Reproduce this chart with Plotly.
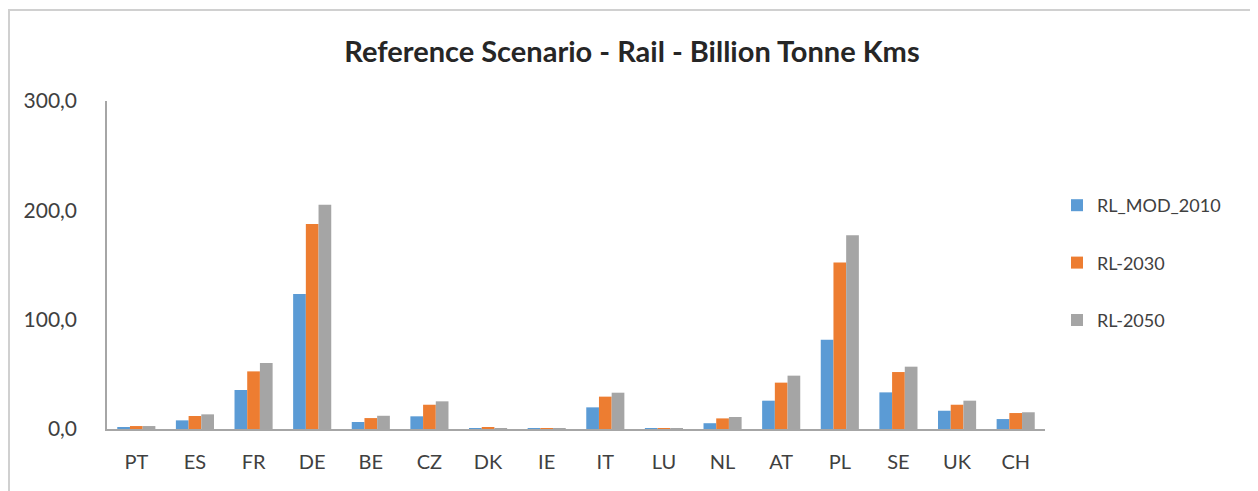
import plotly.graph_objects as go

countries = ["PT", "ES", "FR", "DE", "BE", "CZ", "DK", "IE", "IT", "LU", "NL", "AT", "PL", "SE", "UK", "CH"]
rl_mod_2010 = [1.5, 7.9, 35.7, 123.5, 6.4, 11.6, 0.3, 0.2, 19.8, 0.2, 5.3, 25.9, 81.7, 33.5, 16.7, 9.1]
rl_2030 = [2.7, 11.9, 52.7, 187.6, 10.0, 22.2, 1.0, 0.5, 29.6, 0.4, 9.7, 42.4, 152.4, 52.1, 22.2, 14.6]
rl_2050 = [2.7, 13.4, 60.4, 205.0, 12.1, 25.3, 0.9, 0.5, 33.2, 0.4, 11.0, 48.8, 177.1, 57.0, 25.9, 15.3]

series_names = ["RL_MOD_2010", "RL-2030", "RL-2050"]
series_values = [rl_mod_2010, rl_2030, rl_2050]
colors = ["#5B9BD5", "#ED7D31", "#A5A5A5"]

fig = go.Figure()
for i, (name, vals, col) in enumerate(zip(series_names, series_values, colors)):
    fig.add_trace(go.Bar(x=countries, y=vals, name=name, marker_color=col,
                         marker_line_width=0, legendgroup=f"g{i}"))

OFF = 8  # page body margin
W, H = 1258 - OFF, 491 - OFF
PX0, PX1, PY0, PY1 = 107, 1045, 101, 429  # plot area in window pixels
L = PX0 - OFF
T = PY0 - OFF
R = (W + OFF) - PX1
B = (H + OFF) - PY1
pw, ph = PX1 - PX0, PY1 - PY0

def px(a):
    return (a - PX0) / pw

def py(a):
    return (PY1 - a) / ph

fig.update_layout(
    width=W, height=H,
    margin=dict(l=L, r=R, t=T, b=B, autoexpand=False),
    paper_bgcolor="white", plot_bgcolor="white",
    barmode="group", bargap=0.35, bargroupgap=0,
    separators=", ",
    font=dict(family="Lato, Open Sans, sans-serif", color="#595959", size=20),
    title=dict(text="<b>Reference Scenario - Rail - Billion Tonne Kms</b>",
               x=(632 - OFF) / W, xanchor="center", xref="container",
               y=1 - (52 - OFF) / H, yanchor="middle", yref="container",
               font=dict(size=29, color="#262626", family="Lato, Open Sans, sans-serif")),
    legend=dict(x=px(1057), y=py(187), xanchor="left", yanchor="top",
                tracegroupgap=31, font=dict(size=18, color="#404040"),
                itemwidth=30, bgcolor="rgba(0,0,0,0)"),
    xaxis=dict(showline=True, linecolor="#A6A6A6", linewidth=1.5, showgrid=False,
               ticks="outside", ticklen=14, tickcolor="rgba(0,0,0,0)",
               tickfont=dict(size=20, color="#404040")),
    yaxis=dict(range=[0, 300], dtick=100, tickformat=".1f", showline=True,
               linecolor="#A6A6A6", linewidth=1.5, showgrid=False, zeroline=False,
               ticks="outside", ticklen=24, tickcolor="rgba(0,0,0,0)",
               tickfont=dict(size=21, color="#404040")),
    shapes=[dict(type="rect", xref="paper", yref="paper",
                 x0=px(9), x1=px(1256), y0=py(520), y1=py(10),
                 line=dict(color="#D0D0D0", width=2), fillcolor="rgba(0,0,0,0)", layer="below")],
)

fig.write_html("out.html")
